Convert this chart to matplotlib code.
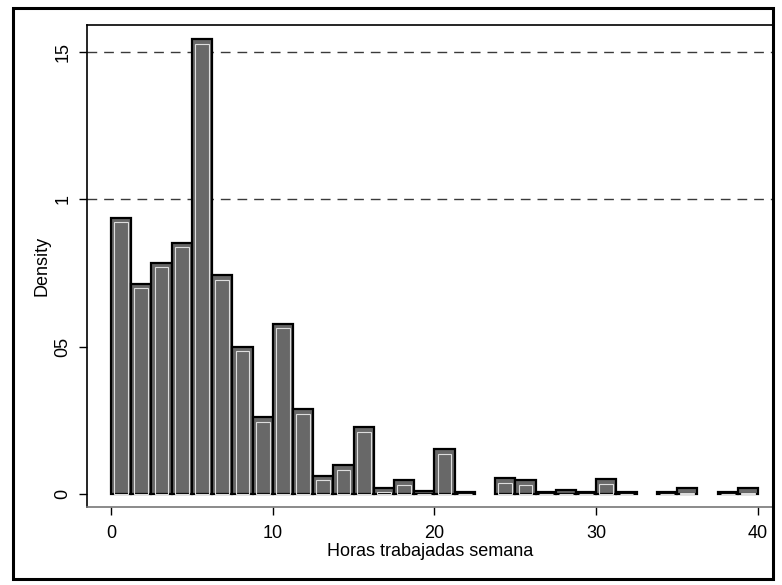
import matplotlib.pyplot as plt
from matplotlib.patches import Rectangle

plt.rcParams['font.family'] = ['Liberation Sans', 'DejaVu Sans']

# histogram bins (width 1.25) and densities
bin_width = 1.25
bin_left = [0.0, 1.25, 2.5, 3.75, 5.0, 6.25, 7.5, 8.75, 10.0, 11.25, 12.5, 13.75,
            15.0, 16.25, 17.5, 18.75, 20.0, 21.25, 22.5, 23.75, 25.0, 26.25, 27.5,
            28.75, 30.0, 31.25, 32.5, 33.75, 35.0, 36.25, 37.5, 38.75]
density = [0.0937, 0.0713, 0.0784, 0.0852, 0.1544, 0.0743, 0.0499, 0.0260,
           0.0577, 0.0288, 0.0062, 0.0098, 0.0226, 0.0021, 0.0047, 0.0010,
           0.0152, 0.0008, 0.0, 0.0054, 0.0047, 0.0008, 0.0013, 0.0008,
           0.0050, 0.0008, 0.0, 0.0008, 0.0020, 0.0, 0.0008, 0.0020]

x_ticks = [0, 10, 20, 30, 40]
y_ticks = [0, 0.05, 0.1, 0.15]
y_tick_labels = ["0", "05", "1", "15"]
grid_at = [0.1, 0.15]

fig = plt.figure(figsize=(7.82, 5.85), dpi=100)
ax = fig.add_axes([87 / 782, 1 - 507 / 585, (773 - 87) / 782, (507 - 25) / 585])

for g in grid_at:
    ax.axhline(g, color="#3a3a3a", lw=1.0, ls=(0, (7, 5)), zorder=1)

lefts = [l for l, d in zip(bin_left, density) if d > 0]
heights = [d for d in density if d > 0]
ax.bar(lefts, heights, width=bin_width, align="edge",
       color="#686868", edgecolor="black", linewidth=1.6, zorder=2)
# thin light inner outline like the printed bars
ax.bar([l + 0.2 for l in lefts], [max(h - 0.0015, 0) for h in heights],
       width=bin_width - 0.4, align="edge", color="none",
       edgecolor="#dddddd", linewidth=0.8, zorder=3)

ax.set_xlim(-1.484, 40.93)
ax.set_ylim(-0.0044, 0.1592)
ax.set_xticks(x_ticks)
ax.set_yticks(y_ticks)
ax.set_yticklabels(y_tick_labels, rotation=90, va="center")
ax.tick_params(axis="both", direction="out", length=6, width=1.0,
               labelsize=13, colors="black")
ax.tick_params(axis="x", pad=7)
ax.tick_params(axis="y", pad=5)

for side in ["left", "bottom", "top", "right"]:
    ax.spines[side].set_linewidth(1.2)
    ax.spines[side].set_color("black")
ax.spines["bottom"].set_color("#777777")

ax.set_xlabel("Horas trabajadas semana", fontsize=13, labelpad=1)
ax.set_ylabel("Density", fontsize=13, labelpad=3)

# outer frame of the scanned graph
fig.patches.append(Rectangle((13 / 782, 1 - 579 / 585), (773 - 13) / 782,
                             (579 - 8) / 585, transform=fig.transFigure,
                             fill=False, edgecolor="black", linewidth=2.2))

fig.savefig("out.png", dpi=100)
